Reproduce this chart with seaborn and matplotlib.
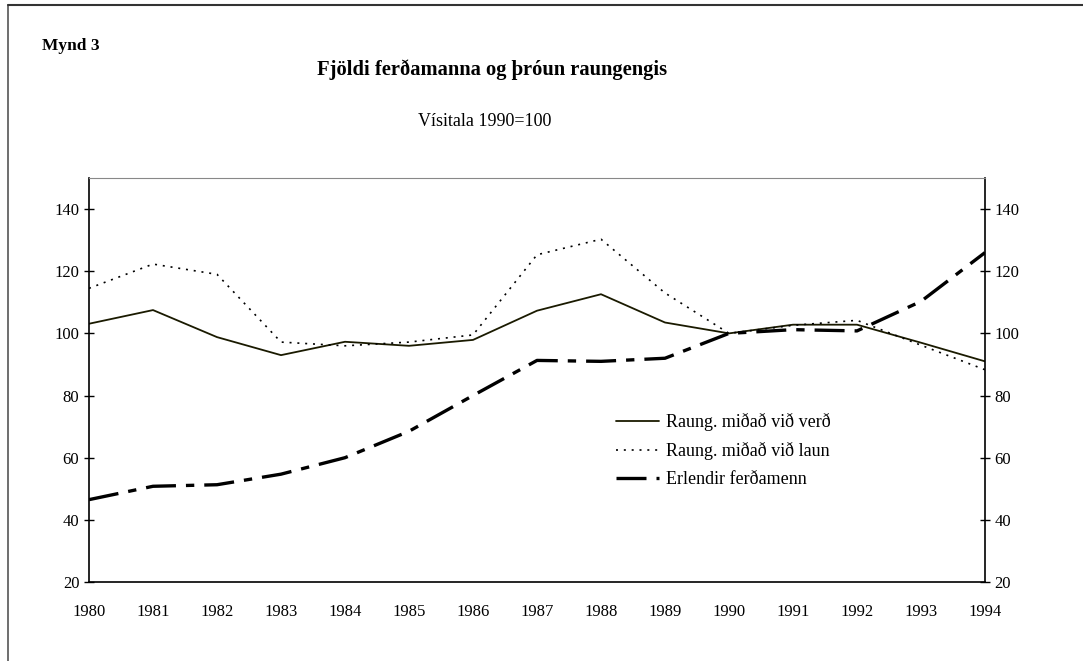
import matplotlib
matplotlib.use("Agg")
import matplotlib.pyplot as plt
import seaborn as sns
import pandas as pd

years = list(range(1980, 1995))
raung_verd = [103.1, 107.5, 98.8, 93.0, 97.3, 96.0, 97.9, 107.3, 112.6, 103.5, 100.0, 102.8, 102.8, 97.0, 91.0]
raung_laun = [114.5, 122.3, 119.0, 97.2, 96.0, 97.2, 99.5, 125.3, 130.3, 113.0, 100.0, 102.6, 104.2, 96.2, 88.3]
ferdamenn = [46.5, 50.8, 51.3, 54.7, 60.0, 68.5, 80.0, 91.3, 91.0, 92.0, 100.0, 101.2, 100.8, 110.3, 126.0]
labels = ["Raung. miðað við verð", "Raung. miðað við laun", "Erlendir ferðamenn"]
y_ticks = [20, 40, 60, 80, 100, 120, 140]

df = pd.DataFrame({"year": years, labels[0]: raung_verd, labels[1]: raung_laun, labels[2]: ferdamenn})

sns.set_style("white")
plt.rcParams["font.family"] = ["Liberation Serif", "DejaVu Serif"]
plt.rcParams["text.color"] = "black"

fig = plt.figure(figsize=(10.83, 6.61), dpi=100)
ax = fig.add_axes([89 / 1083, 1 - 582 / 661, (985 - 89) / 1083, (582 - 178) / 661])

sns.lineplot(data=df, x="year", y=labels[0], ax=ax, color="#1a1a00", linewidth=1.3, label=labels[0])
sns.lineplot(data=df, x="year", y=labels[1], ax=ax, color="black", linewidth=1.2,
             linestyle=(0, (1.2, 3.5)), label=labels[1])
sns.lineplot(data=df, x="year", y=labels[2], ax=ax, color="black", linewidth=2.4,
             linestyle=(0, (9, 3, 2.5, 3)), label=labels[2])

ax.set_xlim(1980, 1994)
ax.set_ylim(20, 150)
ax.set_xticks(years)
ax.set_yticks(y_ticks)
ax.set_xlabel("")
ax.set_ylabel("")
ax.tick_params(axis="both", direction="inout", length=7, width=1, labelsize=12, colors="black")
ax.tick_params(axis="x", pad=12)
for s in ["left", "bottom"]:
    ax.spines[s].set_color("black")
    ax.spines[s].set_linewidth(1.2)
ax.spines["top"].set_color("#888888")
ax.spines["top"].set_linewidth(0.8)
ax.spines["right"].set_color("black")
ax.spines["right"].set_linewidth(1.2)

ax2 = ax.twinx()
ax2.set_ylim(20, 150)
ax2.set_yticks(y_ticks)
ax2.tick_params(axis="y", direction="inout", length=7, width=1, labelsize=12, colors="black")
for s in ax2.spines.values():
    s.set_visible(False)

leg = ax.legend(loc="upper left", bbox_to_anchor=(0.588, 0.418), frameon=False, fontsize=13,
                handlelength=2.4, handletextpad=0.35, labelspacing=0.6, borderaxespad=0, borderpad=0)
for t in leg.get_texts():
    t.set_color("black")

fig.text(42 / 1083, 1 - 46 / 661, "Mynd 3", fontsize=12.5, fontweight="bold", va="center", color="black")
fig.text(492 / 1083, 1 - 70 / 661, "Fjöldi ferðamanna og þróun raungengis", fontsize=14.8,
         fontweight="bold", ha="center", va="center", color="black")
fig.text(485 / 1083, 1 - 121 / 661, "Vísitala 1990=100", fontsize=13, ha="center", va="center", color="black")

# outer frame (left and top only)
fig.add_artist(plt.Line2D([8 / 1083, 8 / 1083], [0, 1 - 5 / 661], color="#555555", linewidth=1.2))
fig.add_artist(plt.Line2D([8 / 1083, 1], [1 - 5 / 661, 1 - 5 / 661], color="#333333", linewidth=1.5))

fig.savefig("out.png", dpi=100)
